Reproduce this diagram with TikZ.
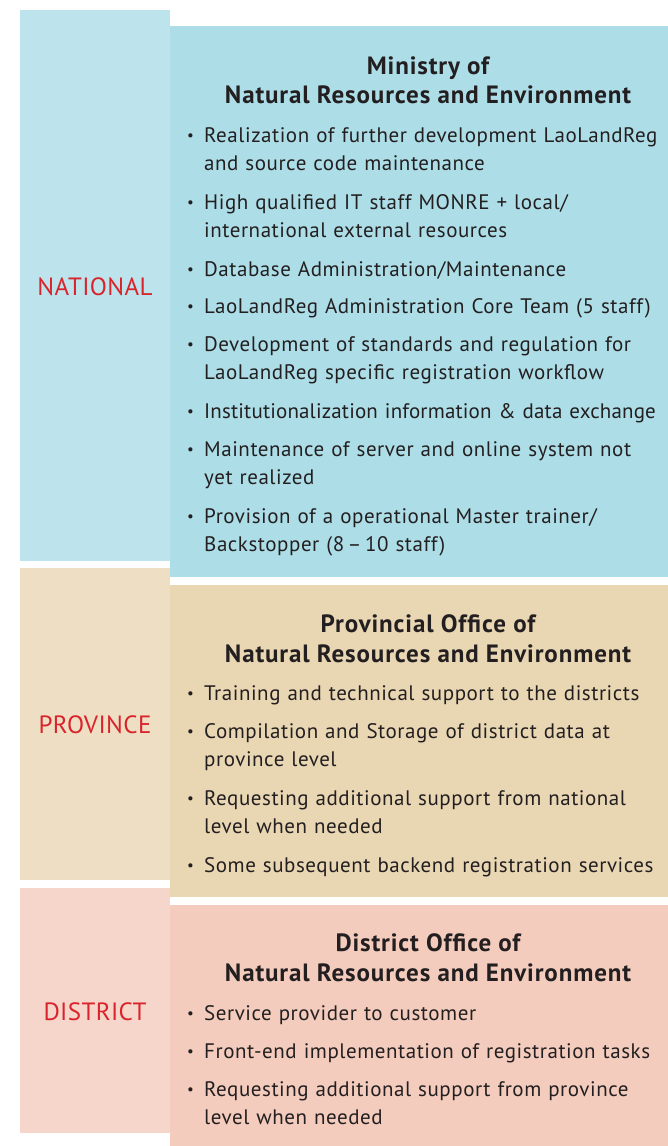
\documentclass[tikz,border=0pt]{standalone}
\usepackage{fontspec}
\setmainfont{PT Sans}
\definecolor{natL}{HTML}{BDE4EC}
\definecolor{natR}{HTML}{ADDEE8}
\definecolor{proL}{HTML}{EEDFC4}
\definecolor{proR}{HTML}{E9D7B4}
\definecolor{disL}{HTML}{F6D6CA}
\definecolor{disR}{HTML}{F3CCBD}
\definecolor{lvl}{HTML}{D9242B}
\definecolor{txt}{HTML}{231F20}
\newfontfamily\bodyfont[LetterSpace=2.6]{PT Sans}
\newfontfamily\tightfont[LetterSpace=0.8]{PT Sans}
\newfontfamily\titlefont[LetterSpace=3.5]{PT Sans Bold}
\newfontfamily\lvlfont[LetterSpace=1.5]{PT Sans}
\tikzset{
  lvllabel/.style={text=lvl, font=\lvlfont\fontsize{25}{30}\selectfont, inner sep=0pt},
  ttl/.style={text=txt, font=\titlefont\fontsize{25}{30}\selectfont, inner sep=0pt, anchor=base},
  bul/.style={text=txt, font=\bodyfont\fontsize{15}{15}\selectfont, inner sep=0pt, anchor=base},
  itm/.style={text=txt, font=\bodyfont\fontsize{21}{28.7}\selectfont, inner sep=0pt, anchor=base west, text width=470pt},
}
\newcommand{\bitem}[3]{%
  \node[bul] (#1b) at (190.5,#2) {\raisebox{2pt}{\textbullet}};
  \node[itm] (#1t) at (204,#2) {#3};
}
\begin{document}
\begin{tikzpicture}[x=1pt,y=-1pt]
\useasboundingbox (0,0) rectangle (668,1146);
% panels
\fill[natL] (20,10) rectangle (170,561);
\fill[natR] (170,26) rectangle (668,577);
\fill[proL] (20,568) rectangle (170,880);
\fill[proR] (170,585) rectangle (668,897);
\fill[disL] (20,888) rectangle (170,1133);
\fill[disR] (170,905) rectangle (668,1146);
% level labels
\node[lvllabel] (national) at (95,287) {NATIONAL};
\node[lvllabel] (province) at (95,725) {PROVINCE};
\node[lvllabel] (district) at (95,1012) {DISTRICT};
% national
\node[ttl] (t1a) at (428,74) {Ministry of};
\node[ttl] (t1b) at (428,103) {Natural Resources and Environment};
\bitem{n1}{142}{Realization of further development LaoLandReg\\and source code maintenance}
\bitem{n2}{209}{High qualified IT staff MONRE + local/\\international external resources}
\bitem{n3}{276}{Database Administration/Maintenance}
\bitem{n4}{313}{LaoLandReg Administration Core Team (5 staff)}
\bitem{n5}{351}{Development of standards and regulation for\\LaoLandReg specific registration workflow}
\bitem{n6}{418}{\tightfont\fontsize{21}{28.7}\selectfont Institutionalization information \& data exchange}
\bitem{n7}{456}{Maintenance of server and online system not\\yet realized}
\bitem{n8}{523}{Provision of a operational Master trainer/\\Backstopper (8\,–\,10 staff)}
% province
\node[ttl] (t2a) at (428,632) {Provincial Office of};
\node[ttl] (t2b) at (428,662) {Natural Resources and Environment};
\bitem{p1}{700}{Training and technical support to the districts}
\bitem{p2}{738}{Compilation and Storage of district data at\\province level}
\bitem{p3}{805}{Requesting additional support from national\\level when needed}
\bitem{p4}{872}{Some subsequent backend registration services}
% district
\node[ttl] (t3a) at (428,951) {District Office of};
\node[ttl] (t3b) at (428,981) {Natural Resources and Environment};
\bitem{d1}{1020}{Service provider to customer}
\bitem{d2}{1058}{Front-end implementation of registration tasks}
\bitem{d3}{1096}{Requesting additional support from province\\level when needed}
\end{tikzpicture}
\end{document}
